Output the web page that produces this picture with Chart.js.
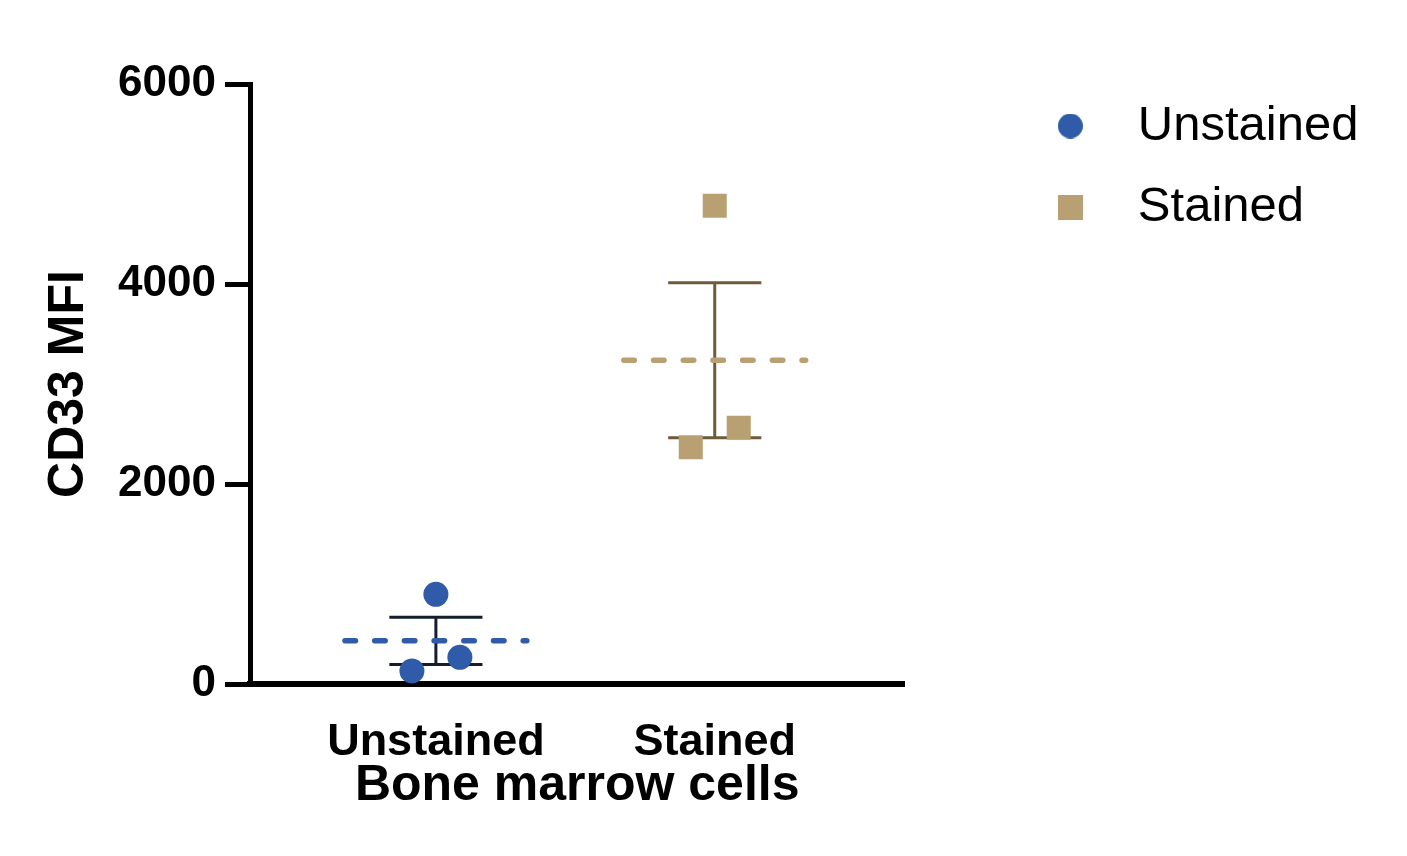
<!DOCTYPE html>
<html>
<head>
<meta charset="utf-8">
<script src="https://cdn.jsdelivr.net/npm/chart.js@4.4.1/dist/chart.umd.min.js"></script>
<style>
  html, body { margin: 0; padding: 0; background: #ffffff; }
  #wrap { width: 1407px; height: 856px; position: relative; }
</style>
</head>
<body>
<div id="wrap"><canvas id="chart"></canvas></div>
<script>
// ---- Data ----
const categories = ['Unstained', 'Stained'];
const groupPositions = [1, 2];
const unstainedValues = [897, 130, 267];
const stainedValues = [4783, 2367, 2563];
const jitterOffsets = [0, -0.086, 0.086];
const yTicks = [0, 2000, 4000, 6000];
const yTitle = 'CD33 MFI';
const xTitle = 'Bone marrow cells';

// ---- Styling ----
const FONT = "'Liberation Sans', Arial, Helvetica, sans-serif";
const BLUE = '#2F5BA9';
const TAN = '#B9A072';
const ERR_BLUE = '#151C2B';
const ERR_TAN = '#6E5A3B';
const MEAN_HALF = 0.326;
const CAP_HALF = 0.167;

Chart.defaults.font.family = FONT;
Chart.defaults.color = '#000';

function mean(a) { return a.reduce((s, v) => s + v, 0) / a.length; }
function sem(a) {
  const m = mean(a);
  const sd = Math.sqrt(a.reduce((s, v) => s + (v - m) * (v - m), 0) / (a.length - 1));
  return sd / Math.sqrt(a.length);
}
function points(values, pos) { return values.map((v, i) => ({ x: pos + jitterOffsets[i], y: v })); }
function meanLine(values, pos) {
  const m = mean(values);
  return [{ x: pos - MEAN_HALF, y: m }, { x: pos + MEAN_HALF, y: m }];
}
function errorBar(values, pos) {
  const m = mean(values), e = sem(values);
  const lo = m - e, hi = m + e;
  return [
    { x: pos, y: lo }, { x: pos, y: hi }, { x: pos, y: null },
    { x: pos - CAP_HALF, y: hi }, { x: pos + CAP_HALF, y: hi }, { x: pos, y: null },
    { x: pos - CAP_HALF, y: lo }, { x: pos + CAP_HALF, y: lo }
  ];
}
function makeMarker(shape, color, size) {
  const c = document.createElement('canvas');
  c.width = size; c.height = size;
  const g = c.getContext('2d');
  g.fillStyle = color;
  if (shape === 'circle') {
    g.beginPath(); g.arc(size / 2, size / 2, size / 2, 0, Math.PI * 2); g.fill();
  } else {
    g.fillRect(0, 0, size, size);
  }
  return c;
}
const legendMarkers = [makeMarker('circle', BLUE, 25), makeMarker('rect', TAN, 25)];

const lineBase = { showLine: true, pointRadius: 0, pointHoverRadius: 0, spanGaps: false, fill: false };

const datasets = [
  { label: categories[0], data: points(unstainedValues, groupPositions[0]), pointStyle: 'circle',
    pointRadius: 12.5, pointHoverRadius: 12.5, backgroundColor: BLUE, borderColor: BLUE,
    pointBackgroundColor: BLUE, pointBorderWidth: 0, borderWidth: 0, showLine: false },
  { label: categories[1], data: points(stainedValues, groupPositions[1]), pointStyle: 'rect',
    pointRadius: 17, pointHoverRadius: 17, backgroundColor: TAN, borderColor: TAN,
    pointBackgroundColor: TAN, pointBorderWidth: 0, borderWidth: 0, showLine: false },
  Object.assign({ label: 'mean1', data: meanLine(unstainedValues, groupPositions[0]), borderColor: BLUE,
    borderWidth: 5.5, borderDash: [10.5, 19.2], borderCapStyle: 'round' }, lineBase),
  Object.assign({ label: 'mean2', data: meanLine(stainedValues, groupPositions[1]), borderColor: TAN,
    borderWidth: 5.5, borderDash: [10.5, 19.2], borderCapStyle: 'round' }, lineBase),
  Object.assign({ label: 'err1', data: errorBar(unstainedValues, groupPositions[0]), borderColor: ERR_BLUE,
    borderWidth: 3 }, lineBase),
  Object.assign({ label: 'err2', data: errorBar(stainedValues, groupPositions[1]), borderColor: ERR_TAN,
    borderWidth: 3 }, lineBase)
];

new Chart(document.getElementById('chart'), {
  type: 'scatter',
  data: { datasets },
  options: {
    responsive: true,
    maintainAspectRatio: false,
    animation: false,
    events: [],
    layout: { padding: { left: 0, top: 69.5, right: 38.5, bottom: 0 } },
    plugins: {
      tooltip: { enabled: false },
      title: { display: false },
      legend: {
        display: true,
        position: 'right',
        align: 'start',
        maxWidth: 600,
        labels: {
          usePointStyle: true,
          pointStyleWidth: 86,
          padding: 32,
          color: '#000',
          font: { size: 49, family: FONT, weight: 'normal' },
          filter: item => item.datasetIndex < 2,
          generateLabels: chart => {
            const items = Chart.defaults.plugins.legend.labels.generateLabels(chart);
            items.forEach(it => { if (it.datasetIndex < 2) it.pointStyle = legendMarkers[it.datasetIndex]; });
            return items;
          }
        }
      }
    },
    scales: {
      x: {
        type: 'linear',
        position: 'bottom',
        min: 1 / 3,
        max: 2.68,
        z: 1,
        afterBuildTicks: s => { s.ticks = groupPositions.map(v => ({ value: v })); },
        ticks: {
          callback: v => { const i = groupPositions.indexOf(v); return i >= 0 ? categories[i] : ''; },
          font: { size: 45, weight: 'bold' },
          color: '#000',
          padding: 32,
          maxRotation: 0,
          autoSkip: false
        },
        grid: { display: false, drawTicks: false, drawOnChartArea: false },
        border: { display: true, color: '#000', width: 6 },
        title: { display: true, text: xTitle, color: '#000', font: { size: 50, weight: 'bold' },
                 padding: { top: 0, bottom: 40 } },
        afterFit: s => { s.height = 172; }
      },
      y: {
        type: 'linear',
        position: 'left',
        min: 0,
        max: 6000,
        afterBuildTicks: s => { s.ticks = yTicks.map(v => ({ value: v })); },
        ticks: {
          callback: v => String(v),
          font: { size: 44, weight: 'bold' },
          color: '#000',
          padding: 9,
          autoSkip: false
        },
        grid: { display: true, drawOnChartArea: false, drawTicks: true, tickLength: 25,
                tickWidth: 5, tickColor: '#000', lineWidth: 5, color: '#000' },
        border: { display: true, color: '#000', width: 5 },
        title: { display: true, text: yTitle, color: '#000', font: { size: 50, weight: 'bold' },
                 padding: { top: 39.5, bottom: 0 } },
        afterFit: s => { s.width = 250; }
      },
      xTop: {
        type: 'linear',
        axis: 'x',
        position: 'top',
        display: true,
        grid: { display: false, drawTicks: false },
        border: { display: false },
        ticks: { display: false },
        afterFit: s => { s.height = 14.5; }
      },
      yRight: {
        type: 'linear',
        axis: 'y',
        position: 'right',
        display: true,
        grid: { display: false, drawTicks: false },
        border: { display: false },
        ticks: { display: false },
        afterFit: s => { s.width = 91; }
      }
    }
  }
});
</script>
</body>
</html>
